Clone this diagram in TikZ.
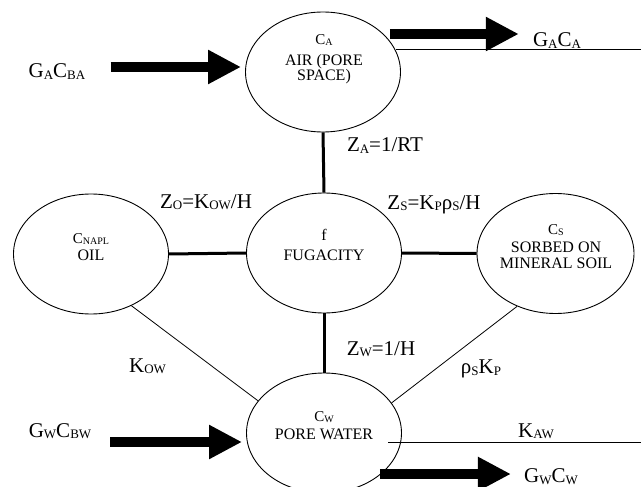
\documentclass[tikz,border=0pt]{standalone}
\usepackage{fontspec}
\setmainfont{Liberation Serif}
\usetikzlibrary{shapes.geometric,arrows.meta,positioning}
\newcommand{\sub}[1]{\raisebox{-1.5pt}{\fontsize{13}{13}\selectfont #1}}
\newcommand{\esub}[1]{\raisebox{-1pt}{\fontsize{10}{10}\selectfont #1}}
\newcommand{\chead}[2]{{\fontsize{15}{17}\selectfont #1\esub{#2}}}

\begin{document}
\begin{tikzpicture}[x=1pt,y=-1pt,
    phase/.style={ellipse,draw,line width=0.9pt,minimum width=155pt,minimum height=120pt,inner sep=0pt},
    inside/.style={align=center,font=\fontsize{16}{17}\selectfont,inner sep=0pt,anchor=base},
    lbl/.style={font=\fontsize{21}{24}\selectfont,inner sep=0pt,anchor=base},
    bond/.style={line width=3pt},
    link/.style={line width=0.8pt},
    flow/.style={line width=10pt,-{Triangle[length=33pt,width=32pt]}}]
  \useasboundingbox (0,0) rectangle (641,487);

  %PHASES
  \node[phase] (air) at (323,72) {};
  \node[phase] (fug) at (324,253) {};
  \node[phase] (oil) at (91,254) {};
  \node[phase,minimum width=157pt] (soil) at (555.5,253.5) {};
  \node[phase] (water) at (324,433) {};

  %text sits on the baseline of its last line
  \node[inside] (airtxt) at (324,81) {\chead{C}{A}\\[4pt]AIR (PORE\\[-2pt]SPACE)};
  \node[inside] (fugtxt) at (324,260) {f\\[3pt]FUGACITY};
  \node[inside] (oiltxt) at (91,260) {\chead{C}{NAPL}\\OIL};
  \node[inside] (soiltxt) at (556,269) {\chead{C}{S}\\[1pt]SORBED ON\\MINERAL SOIL};
  \node[inside] (watertxt) at (324,439) {\chead{C}{W}\\[1pt]PORE WATER};

  %LABELS
  \node[lbl] (gacba) at (57,78) {G\sub{A}C\sub{BA}};
  \node[lbl] (gaca) at (557,47) {G\sub{A}C\sub{A}};
  \node[lbl] (za) at (385,152) {Z\sub{A}=1/RT};
  \node[lbl] (zo) at (206,208.5) {Z\sub{O}=K\sub{OW}/H};
  \node[lbl] (zs) at (434,209.5) {Z\sub{S}=K\sub{P}ρ\sub{S}/H};
  \node[lbl] (kow) at (147.5,372) {K\sub{OW}};
  \node[lbl] (zw) at (381,355) {Z\sub{W}=1/H};
  \node[lbl] (rhokp) at (481,373.5) {ρ\sub{S}K\sub{P}};
  \node[lbl] (gwcbw) at (60,437) {G\sub{W}C\sub{BW}};
  \node[lbl] (kaw) at (536,437) {K\sub{AW}};
  \node[lbl] (gwcw) at (551,482.5) {G\sub{W}C\sub{W}};

  %CONNECTIONS
  \draw[bond] (air.south) -- (fug.north);
  \draw[bond] (fug.south) -- (water.north);
  \draw[bond] (oil.east) -- (fug.west);
  \draw[bond] (fug.east) -- (soil.west);
  \draw[link] (oil.-52) -- (water.154.5);
  \draw[link] (soil.234) -- (water.24.5);

  \coordinate (edgeA) at (641,50);
  \coordinate (edgeW) at (641,442);
  \draw[link] (air.17) -- (air.17 -| edgeA);
  \draw[link] ([shift={(64,9)}]water.center) -- (edgeW);

  %FLOWS
  \coordinate (inA) at ([shift={(-4,-5)}]air.west);
  \coordinate (outA) at ([shift={(-11,-38)}]air.east);
  \coordinate (inW) at ([shift={(-4,9)}]water.west);
  \coordinate (outW) at ([shift={(-22,41)}]water.east);
  \draw[flow] ([xshift=25pt]gacba.east |- inA) -- (inA);
  \draw[flow] (outA) -- ([xshift=-14pt]gaca.west |- outA);
  \draw[flow] ([xshift=19pt]gwcbw.east |- inW) -- (inW);
  \draw[flow] (outW) -- ([xshift=-13pt]gwcw.west |- outW);
\end{tikzpicture}
\end{document}
